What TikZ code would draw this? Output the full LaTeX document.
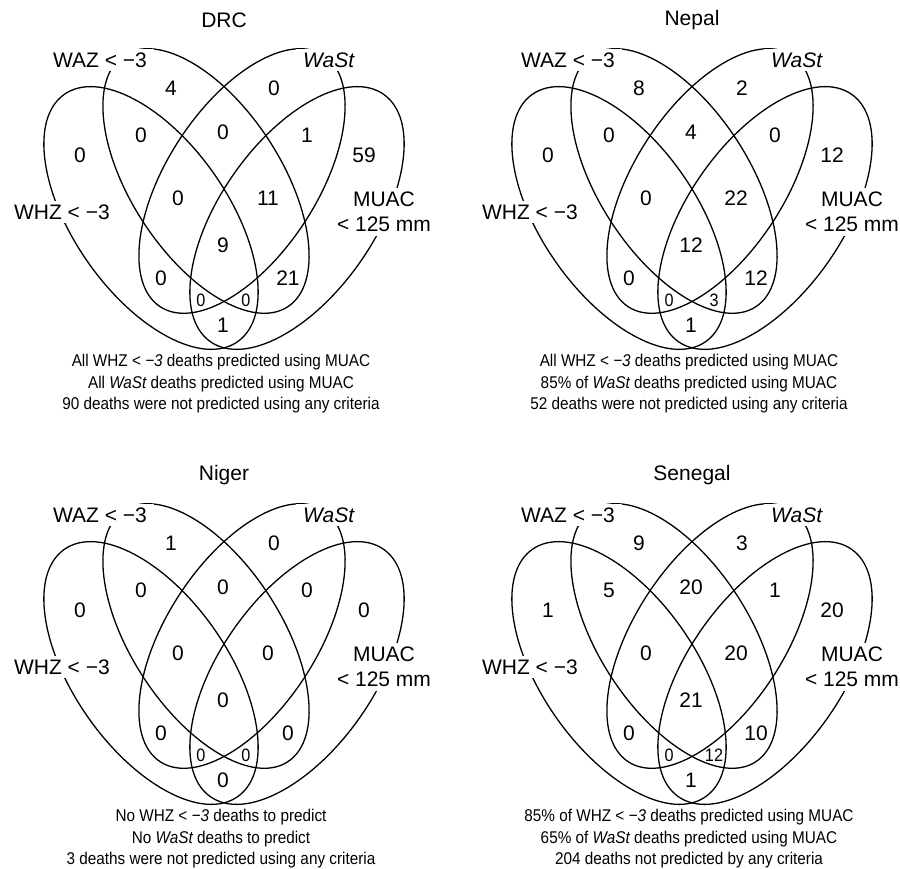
\documentclass[tikz,border=0pt]{standalone}
\usepackage{fontspec}
\setmainfont{Liberation Sans}
\newfontfamily\narrowfont[FakeStretch=0.9]{Liberation Sans}

\tikzset{
	setring/.style={line width=1.3pt},
	setname/.style={fill=white, inner xsep=7pt, inner ysep=4pt, font=\fontsize{21}{25}\selectfont},
	paneltitle/.style={inner sep=2pt, font=\fontsize{21}{25}\selectfont},
	cellnum/.style={inner sep=1pt, font=\fontsize{21}{25}\selectfont},
	smallnum/.style={inner sep=1pt, font=\narrowfont\fontsize{18}{20}\selectfont},
	note/.style={align=center, inner sep=1pt, font=\narrowfont\fontsize{17}{21.5}\selectfont}
}

% one panel: #1 name, #2 title, #3 counts, #4 #5 small counts, #6-#8 notes
\def\vennpanel#1#2#3#4#5#6#7#8{
	\draw[setring] (-73,218) ellipse [x radius=151, y radius=77, rotate=-55];
	\draw[setring] (73,218) ellipse [x radius=151, y radius=77, rotate=55];
	\draw[setring] (-18,181) ellipse [x radius=150, y radius=75, rotate=-57];
	\draw[setring] (18,181) ellipse [x radius=150, y radius=75, rotate=57];
	
	\node[paneltitle] (#1-title) at (0,20) {#2};
	\node[setname, anchor=east] (#1-waz) at (-70,60) {WAZ < −3};
	\node[setname, anchor=west] (#1-wast) at (72,60) {\itshape WaSt};
	\node[setname, anchor=east] (#1-whz) at (-107,212) {WHZ < −3};
	\node[setname, align=center] (#1-muac) at (160,212) {MUAC\\< 125 mm};
	
	\foreach \px/\py [count=\k] in {-53/88, 50/88, -144/155, -83/135, -1/132, 83/135, 140/155,
		-46/198, 44/198, -1/245, -63/278, 64/278, -1/325}
		\coordinate (#1-c\k) at (\px,\py);
	\foreach \val [count=\k] in {#3}
		\node[cellnum] (#1-n\k) at (#1-c\k) {\val};
	\node[smallnum] (#1-n14) at (-23,300) {#4};
	\node[smallnum] (#1-n15) at (22,300) {#5};
	
	\node[note] (#1-note) at (-3,384) {#6\\#7\\#8};
}

\begin{document}
\begin{tikzpicture}[x=1pt, y=-1pt]
	\useasboundingbox (0,0) rectangle (900,869);
	
	%%%%% DRC %%%%%
	\begin{scope}[shift={(224,0)}]
		\vennpanel{drc}{DRC}{4,0,0,0,0,1,59,0,11,9,0,21,1}{0}{0}
		{All WHZ < {\itshape −3} deaths predicted using MUAC}
		{All {\itshape WaSt} deaths predicted using MUAC}
		{90 deaths were not predicted using any criteria}
	\end{scope}
	
	%%%%% NEPAL %%%%%
	\begin{scope}[shift={(692,0)}]
		\vennpanel{nepal}{Nepal}{8,2,0,0,4,0,12,0,22,12,0,12,1}{0}{3}
		{All WHZ < {\itshape −3} deaths predicted using MUAC}
		{85\% of {\itshape WaSt} deaths predicted using MUAC}
		{52 deaths were not predicted using any criteria}
	\end{scope}
	
	%%%%% NIGER %%%%%
	\begin{scope}[shift={(224,455)}]
		\vennpanel{niger}{Niger}{1,0,0,0,0,0,0,0,0,0,0,0,0}{0}{0}
		{No WHZ < {\itshape −3} deaths to predict}
		{No {\itshape WaSt} deaths to predict}
		{3 deaths were not predicted using any criteria}
	\end{scope}
	
	%%%%% SENEGAL %%%%%
	\begin{scope}[shift={(692,455)}]
		\vennpanel{senegal}{Senegal}{9,3,1,5,20,1,20,0,20,21,0,10,1}{0}{12}
		{85\% of WHZ < {\itshape −3} deaths predicted using MUAC}
		{65\% of {\itshape WaSt} deaths predicted using MUAC}
		{204 deaths not predicted by any criteria}
	\end{scope}
\end{tikzpicture}
\end{document}
